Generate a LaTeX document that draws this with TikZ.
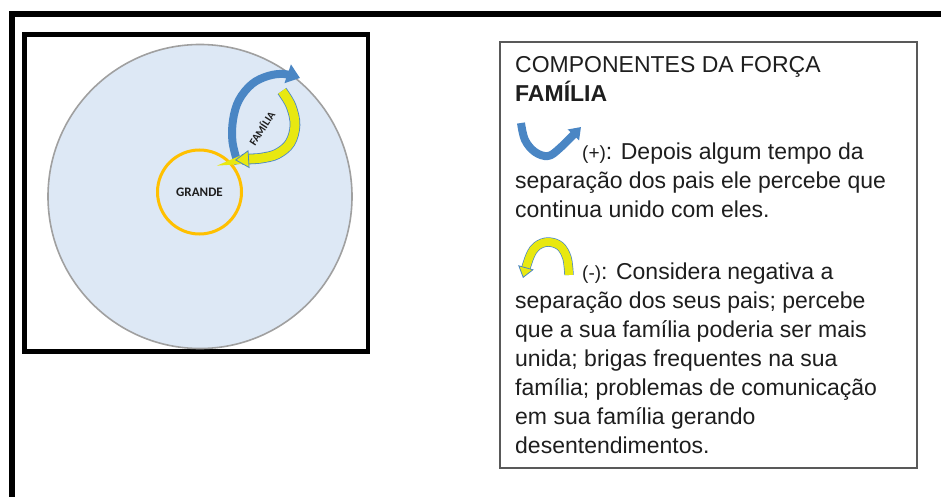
\documentclass[tikz,border=0pt]{standalone}
\usepackage{fontspec}
\setmainfont{Liberation Sans}
\newfontfamily\calib{Carlito}
\usetikzlibrary{arrows.meta}
\definecolor{circfill}{RGB}{221,232,245}
\definecolor{circline}{RGB}{160,160,160}
\definecolor{gold}{RGB}{255,192,0}
\definecolor{blu}{RGB}{74,134,196}
\definecolor{yel}{RGB}{232,232,16}
\definecolor{txt}{RGB}{30,30,30}
\tikzset{
  bodytext/.style={anchor=base west, inner sep=0pt, text=txt, font=\fontsize{23}{28}\selectfont},
  blueband/.style={blu, line width=8pt, line cap=butt},
  yelband/.style={yel, line width=9pt},
  yeledge/.style={blu, line width=10.6pt},
}
\begin{document}
\begin{tikzpicture}[x=1pt,y=-1pt]
\useasboundingbox (0,0) rectangle (941,497);
% outer frame
\draw[line width=6pt] (945,14) -- (11.5,14) -- (11.5,501);
% inner left box
\draw[line width=4.5pt] (24.5,34.5) rectangle (368,351.5);
% big circle
\node[circle, draw=circline, fill=circfill, line width=1.6pt, minimum size=304pt, inner sep=0pt] (big) at (200,196.5) {};
% GRANDE circle
\node[circle, draw=gold, line width=3pt, minimum size=84pt, inner sep=0pt, text=txt, font=\calib\bfseries\fontsize{13}{13}\selectfont] (grande) at (199.5,192) {GRANDE};
% FAMILIA ring arrows
\draw[blueband, -{Triangle[width=19pt,length=13pt]}] plot[smooth, tension=0.6] coordinates {(238,164) (232.5,142) (233,120) (239,100) (252,84) (268,76) (284,74) (300,78)};
\draw[yeledge, shorten >=13pt] plot[smooth, tension=0.6] coordinates {(282,91) (291,106) (295,125) (290,143) (277,154) (262,158) (250,159) (235,160)};
\draw[yelband, -{Triangle[width=18pt,length=14pt,fill=yel,color=blu,line width=0.8pt]}] plot[smooth, tension=0.6] coordinates {(282,91) (291,106) (295,125) (290,143) (277,154) (262,158) (250,159) (235,160)};
\node[rotate=57, inner sep=0pt, text=txt, font=\calib\bfseries\fontsize{11}{11}\selectfont] (fam) at (261.5,128) {FAMÍLIA};
% right box
\draw[draw=black!65, line width=1.5pt] (500,42) rectangle (917,468);
\node[bodytext] (t1) at (515,73) {COMPONENTES DA FORÇA};
\node[bodytext, font=\fontsize{23}{28}\selectfont\bfseries] (t2) at (515,102) {FAMÍLIA};
% plus icon
\draw[blueband, -{Triangle[width=15pt,length=11pt]}] plot[smooth, tension=0.6] coordinates {(521,123) (525,140) (535,152) (548,156) (560,148) (581,127)};
\node[bodytext] (t3) at (582,160) {{\fontsize{19}{19}\selectfont(+)}: Depois algum tempo da};
\node[bodytext] (t4) at (515,189) {separação dos pais ele percebe que};
\node[bodytext] (t5) at (515,217) {continua unido com eles.};
% minus icon
\draw[blu, line width=9.4pt, shorten >=10pt] plot[smooth, tension=0.6] coordinates {(569,275) (567,258) (560,246) (548,242) (537,246) (530,256) (523,278)};
\draw[yel, line width=8pt, -{Triangle[width=16pt,length=11pt,fill=yel,color=blu,line width=0.8pt]}] plot[smooth, tension=0.6] coordinates {(569,275) (567,258) (560,246) (548,242) (537,246) (530,256) (523,278)};
\node[bodytext] (t6) at (582,279) {{\fontsize{19}{19}\selectfont(-)}: Considera negativa a};
\node[bodytext] (t7) at (515,308) {separação dos seus pais; percebe};
\node[bodytext] (t8) at (515,337) {que a sua família poderia ser mais};
\node[bodytext] (t9) at (515,366) {unida; brigas frequentes na sua};
\node[bodytext] (t10) at (515,395) {família; problemas de comunicação};
\node[bodytext] (t11) at (515,424) {em sua família gerando};
\node[bodytext] (t12) at (515,453) {desentendimentos.};
\end{tikzpicture}
\end{document}
